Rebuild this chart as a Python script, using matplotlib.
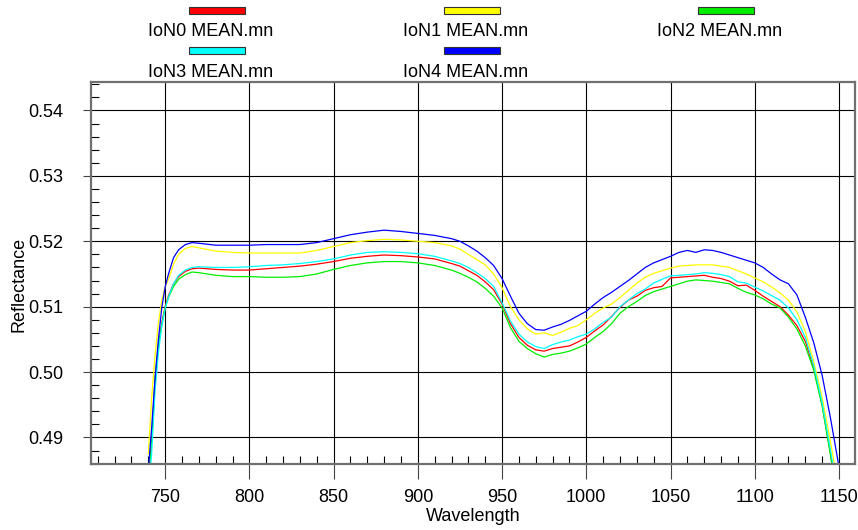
import matplotlib
matplotlib.use("Agg")
import matplotlib.pyplot as plt
from matplotlib.patches import Rectangle
from matplotlib.ticker import MultipleLocator, FormatStrFormatter

plt.rcParams['font.family'] = ['Liberation Sans', 'DejaVu Sans']

# wavelength grid (nm)
wl = [740, 742, 744, 746, 748, 750, 752, 755, 758, 762, 766, 770, 780, 790, 800,
      810, 820, 830, 840, 850, 860, 870, 880, 890, 900, 910, 920, 925, 930, 935,
      940, 945, 950, 955, 960, 965, 970, 975, 980, 985, 990, 995, 1000, 1005,
      1010, 1015, 1020, 1025, 1030, 1035, 1040, 1045, 1050, 1055, 1060, 1065,
      1070, 1075, 1080, 1085, 1090, 1095, 1100, 1105, 1110, 1115, 1120, 1125,
      1130, 1135, 1140, 1145, 1150]

ion0 = [0.4835, 0.4895, 0.4985, 0.5040, 0.5075, 0.5100, 0.5117, 0.5135, 0.5146,
        0.5154, 0.5158, 0.5159, 0.5157, 0.5156, 0.5156, 0.5158, 0.5160, 0.5162,
        0.5165, 0.5169, 0.5174, 0.5177, 0.5179, 0.5178, 0.5176, 0.5173, 0.5166,
        0.5162, 0.5155, 0.5148, 0.5138, 0.5126, 0.5104, 0.5074, 0.5053, 0.5041,
        0.5034, 0.5032, 0.5036, 0.5038, 0.5040, 0.5046, 0.5053, 0.5063, 0.5072,
        0.5085, 0.5099, 0.5110, 0.5116, 0.5125, 0.5129, 0.5131, 0.5144, 0.5145,
        0.5146, 0.5147, 0.5148, 0.5145, 0.5143, 0.5139, 0.5132, 0.5133, 0.5125,
        0.5116, 0.5108, 0.5100, 0.5087, 0.5071, 0.5047, 0.5007, 0.4950, 0.4875,
        0.4790]

ion1 = [0.4875, 0.4960, 0.5025, 0.5075, 0.5110, 0.5130, 0.5142, 0.5165, 0.5180,
        0.5189, 0.5192, 0.5190, 0.5185, 0.5183, 0.5182, 0.5182, 0.5182, 0.5182,
        0.5186, 0.5192, 0.5198, 0.5201, 0.5203, 0.5202, 0.5200, 0.5198, 0.5193,
        0.5188, 0.5180, 0.5172, 0.5164, 0.5150, 0.5129, 0.5100, 0.5080, 0.5066,
        0.5058, 0.5060, 0.5056, 0.5061, 0.5067, 0.5071, 0.5080, 0.5090, 0.5098,
        0.5104, 0.5114, 0.5125, 0.5136, 0.5145, 0.5151, 0.5155, 0.5159, 0.5162,
        0.5163, 0.5164, 0.5164, 0.5164, 0.5162, 0.5160, 0.5155, 0.5150, 0.5144,
        0.5138, 0.5130, 0.5121, 0.5110, 0.5092, 0.5062, 0.5016, 0.4961, 0.4893,
        0.4820]

ion2 = [0.4835, 0.4890, 0.4990, 0.5040, 0.5072, 0.5098, 0.5114, 0.5131, 0.5142,
        0.5149, 0.5153, 0.5152, 0.5148, 0.5146, 0.5146, 0.5145, 0.5145, 0.5146,
        0.5150, 0.5157, 0.5163, 0.5167, 0.5169, 0.5169, 0.5167, 0.5163, 0.5156,
        0.5151, 0.5145, 0.5138, 0.5128, 0.5116, 0.5098, 0.5068, 0.5047, 0.5036,
        0.5028, 0.5023, 0.5027, 0.5029, 0.5032, 0.5037, 0.5043, 0.5053, 0.5062,
        0.5074, 0.5090, 0.5100, 0.5108, 0.5117, 0.5123, 0.5127, 0.5131, 0.5135,
        0.5139, 0.5141, 0.5140, 0.5139, 0.5137, 0.5135, 0.5128, 0.5122, 0.5118,
        0.5112, 0.5104, 0.5098, 0.5084, 0.5066, 0.5040, 0.5003, 0.4948, 0.4872,
        0.4790]

ion3 = [0.4820, 0.4875, 0.4970, 0.5030, 0.5070, 0.5097, 0.5115, 0.5135, 0.5148,
        0.5156, 0.5160, 0.5161, 0.5160, 0.5160, 0.5161, 0.5163, 0.5164, 0.5166,
        0.5169, 0.5173, 0.5179, 0.5183, 0.5184, 0.5183, 0.5181, 0.5177, 0.5170,
        0.5166, 0.5160, 0.5152, 0.5143, 0.5131, 0.5106, 0.5078, 0.5058, 0.5046,
        0.5039, 0.5036, 0.5042, 0.5046, 0.5049, 0.5054, 0.5058, 0.5066, 0.5076,
        0.5084, 0.5100, 0.5110, 0.5120, 0.5127, 0.5136, 0.5142, 0.5147, 0.5148,
        0.5149, 0.5150, 0.5152, 0.5151, 0.5149, 0.5146, 0.5138, 0.5136, 0.5130,
        0.5124, 0.5117, 0.5110, 0.5098, 0.5080, 0.5053, 0.5010, 0.4953, 0.4880,
        0.4805]

ion4 = [0.4850, 0.4915, 0.4990, 0.5050, 0.5098, 0.5130, 0.5150, 0.5175, 0.5187,
        0.5195, 0.5198, 0.5197, 0.5194, 0.5194, 0.5194, 0.5195, 0.5195, 0.5195,
        0.5198, 0.5204, 0.5210, 0.5214, 0.5217, 0.5215, 0.5212, 0.5209, 0.5204,
        0.5200, 0.5193, 0.5185, 0.5175, 0.5163, 0.5143, 0.5116, 0.5090, 0.5074,
        0.5065, 0.5064, 0.5069, 0.5073, 0.5079, 0.5086, 0.5093, 0.5104, 0.5114,
        0.5122, 0.5131, 0.5140, 0.5150, 0.5160, 0.5167, 0.5172, 0.5177, 0.5183,
        0.5186, 0.5183, 0.5187, 0.5186, 0.5183, 0.5179, 0.5175, 0.5171, 0.5167,
        0.5160, 0.5150, 0.5141, 0.5135, 0.5118, 0.5084, 0.5045, 0.4995, 0.4929,
        0.4855]

names = ["IoN0 MEAN.mn", "IoN1 MEAN.mn", "IoN2 MEAN.mn", "IoN3 MEAN.mn", "IoN4 MEAN.mn"]
series = [ion0, ion1, ion2, ion3, ion4]
colors = ["#ff0000", "#ffff00", "#00ee00", "#00ffff", "#0000ff"]

W, H = 858, 530
fig = plt.figure(figsize=(W / 100, H / 100), dpi=100)
ax = fig.add_axes([91 / W, 1 - 464.3 / H, (855 - 91) / W, (464.3 - 81.7) / H])

for vals, c in zip(series, colors):
    ax.plot(wl, vals, color=c, lw=0.9)

ax.set_xlim(706, 1159.5)
ax.set_ylim(0.4859, 0.5444)

ax.xaxis.set_major_locator(MultipleLocator(50))
ax.xaxis.set_minor_locator(MultipleLocator(10))
ax.yaxis.set_major_locator(MultipleLocator(0.01))
ax.yaxis.set_minor_locator(MultipleLocator(0.002))
ax.yaxis.set_major_formatter(FormatStrFormatter('%.2f'))

ax.grid(True, which='major', color='black', lw=0.8)
ax.tick_params(axis='x', which='major', direction='out', length=11, width=0.8,
               pad=7, labelsize=13, color='#444')
ax.tick_params(axis='y', which='major', direction='out', length=6, width=0.8,
               pad=14, labelsize=13, color='#444')
ax.tick_params(which='minor', direction='in', length=6, width=0.8, color='black')

for s in ax.spines.values():
    s.set_color('#707070')
    s.set_linewidth(1.6)

ax.set_xlabel("Wavelength", fontsize=13)
ax.set_ylabel("Reflectance", fontsize=13)
ax.xaxis.set_label_coords(0.5, -0.113)
ax.yaxis.set_label_coords(-0.083, 0.47)

# legend drawn above the axes, three columns
col_x = [211, 466, 720]
row_patch_y = [10.5, 50.5]
row_text_y = [32, 72.5]
for i, (name, c) in enumerate(zip(names, colors)):
    r, k = divmod(i, 3)
    px = col_x[k] + 6
    py = row_patch_y[r]
    fig.add_artist(Rectangle(((px - 28) / W, 1 - (py + 3.5) / H), 56 / W, 7 / H,
                             transform=fig.transFigure, facecolor=c,
                             edgecolor='#333', lw=0.8))
    fig.text(col_x[k] / W, 1 - row_text_y[r] / H, name, fontsize=13,
             ha='center', va='center')

fig.savefig("out.png", dpi=100)
